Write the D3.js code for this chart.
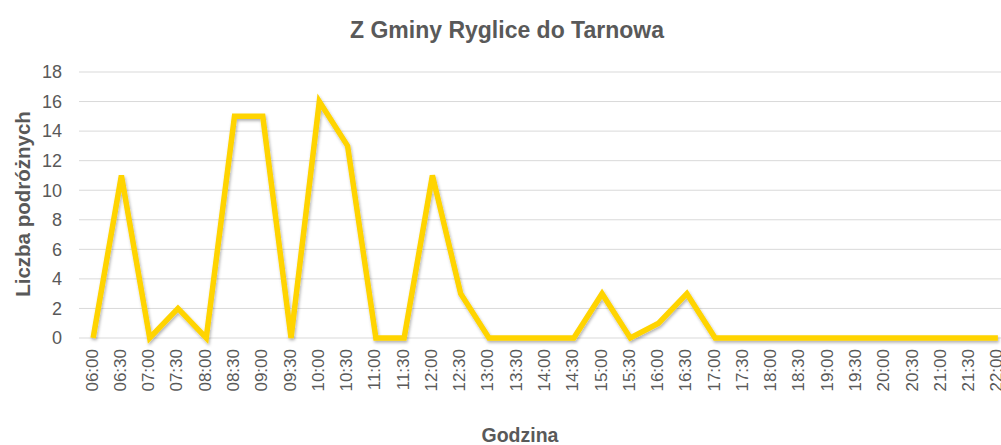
<!DOCTYPE html>
<html lang="pl">
<head>
<meta charset="utf-8">
<script src="https://d3js.org/d3.v7.min.js"></script>
<style>
  body { margin: 0; background: #fff; }
  text { font-family: "Liberation Sans", Arial, sans-serif; fill: #595959; }
</style>
</head>
<body>
<script>
  // categories: half-hour slots 06:00 .. 22:00
  const godziny = ["06:00","06:30","07:00","07:30","08:00","08:30","09:00","09:30",
    "10:00","10:30","11:00","11:30","12:00","12:30","13:00","13:30","14:00","14:30",
    "15:00","15:30","16:00","16:30","17:00","17:30","18:00","18:30","19:00","19:30",
    "20:00","20:30","21:00","21:30","22:00"];
  const podrozni = [0,11,0,2,0,15,15,0,16,13,0,0,11,3,0,0,0,0,3,0,1,3,0,0,0,0,0,0,0,0,0,0,0];
  const yTicks = [0,2,4,6,8,10,12,14,16,18];

  const W = 1001, H = 445;
  const plotLeft = 79, plotRight = 1012, plotTop = 72, plotBottom = 338;

  const svg = d3.select("body").append("svg")
    .attr("width", W).attr("height", H);

  const defs = svg.append("defs");
  const f = defs.append("filter").attr("id", "shadow")
    .attr("x", "-10%").attr("y", "-10%").attr("width", "120%").attr("height", "130%");
  f.append("feDropShadow").attr("dx", 1).attr("dy", 2).attr("stdDeviation", 1.5)
    .attr("flood-color", "#000").attr("flood-opacity", 0.3);

  const x = d3.scaleBand().domain(godziny).range([plotLeft, plotRight]);
  const y = d3.scaleLinear().domain([0, 18]).range([plotBottom, plotTop]);

  // gridlines
  svg.append("g").selectAll("line").data(yTicks).enter().append("line")
    .attr("x1", plotLeft).attr("x2", W)
    .attr("y1", d => y(d)).attr("y2", d => y(d))
    .attr("stroke", "#d9d9d9").attr("stroke-width", 1);

  // y axis labels
  svg.append("g").selectAll("text").data(yTicks).enter().append("text")
    .attr("x", 62).attr("y", d => y(d))
    .attr("dy", "0.35em")
    .attr("text-anchor", "end")
    .style("font-size", "18px")
    .text(d => d);

  // x axis labels (rotated)
  svg.append("g").selectAll("text").data(godziny).enter().append("text")
    .attr("transform", d => "translate(" + (x(d) + x.bandwidth() / 2 + 4.5) + ",349) rotate(-90)")
    .attr("text-anchor", "end")
    .style("font-size", "17px")
    .text(d => d);

  // line
  const line = d3.line()
    .x((d, i) => x(godziny[i]) + x.bandwidth() / 2)
    .y(d => y(d));

  svg.append("path")
    .datum(podrozni)
    .attr("d", line)
    .attr("fill", "none")
    .attr("stroke", "#ffd400")
    .attr("stroke-width", 5.5)
    .attr("stroke-linejoin", "miter")
    .attr("filter", "url(#shadow)");

  // titles
  svg.append("text")
    .attr("x", 507).attr("y", 38)
    .attr("text-anchor", "middle")
    .style("font-size", "23px").style("font-weight", "bold")
    .text("Z Gminy Ryglice do Tarnowa");

  svg.append("text")
    .attr("x", 520).attr("y", 442)
    .attr("text-anchor", "middle")
    .style("font-size", "19.5px").style("font-weight", "bold")
    .text("Godzina");

  svg.append("text")
    .attr("transform", "translate(30,204) rotate(-90)")
    .attr("text-anchor", "middle")
    .style("font-size", "20.5px").style("font-weight", "bold")
    .text("Liczba podróżnych");
</script>
</body>
</html>
